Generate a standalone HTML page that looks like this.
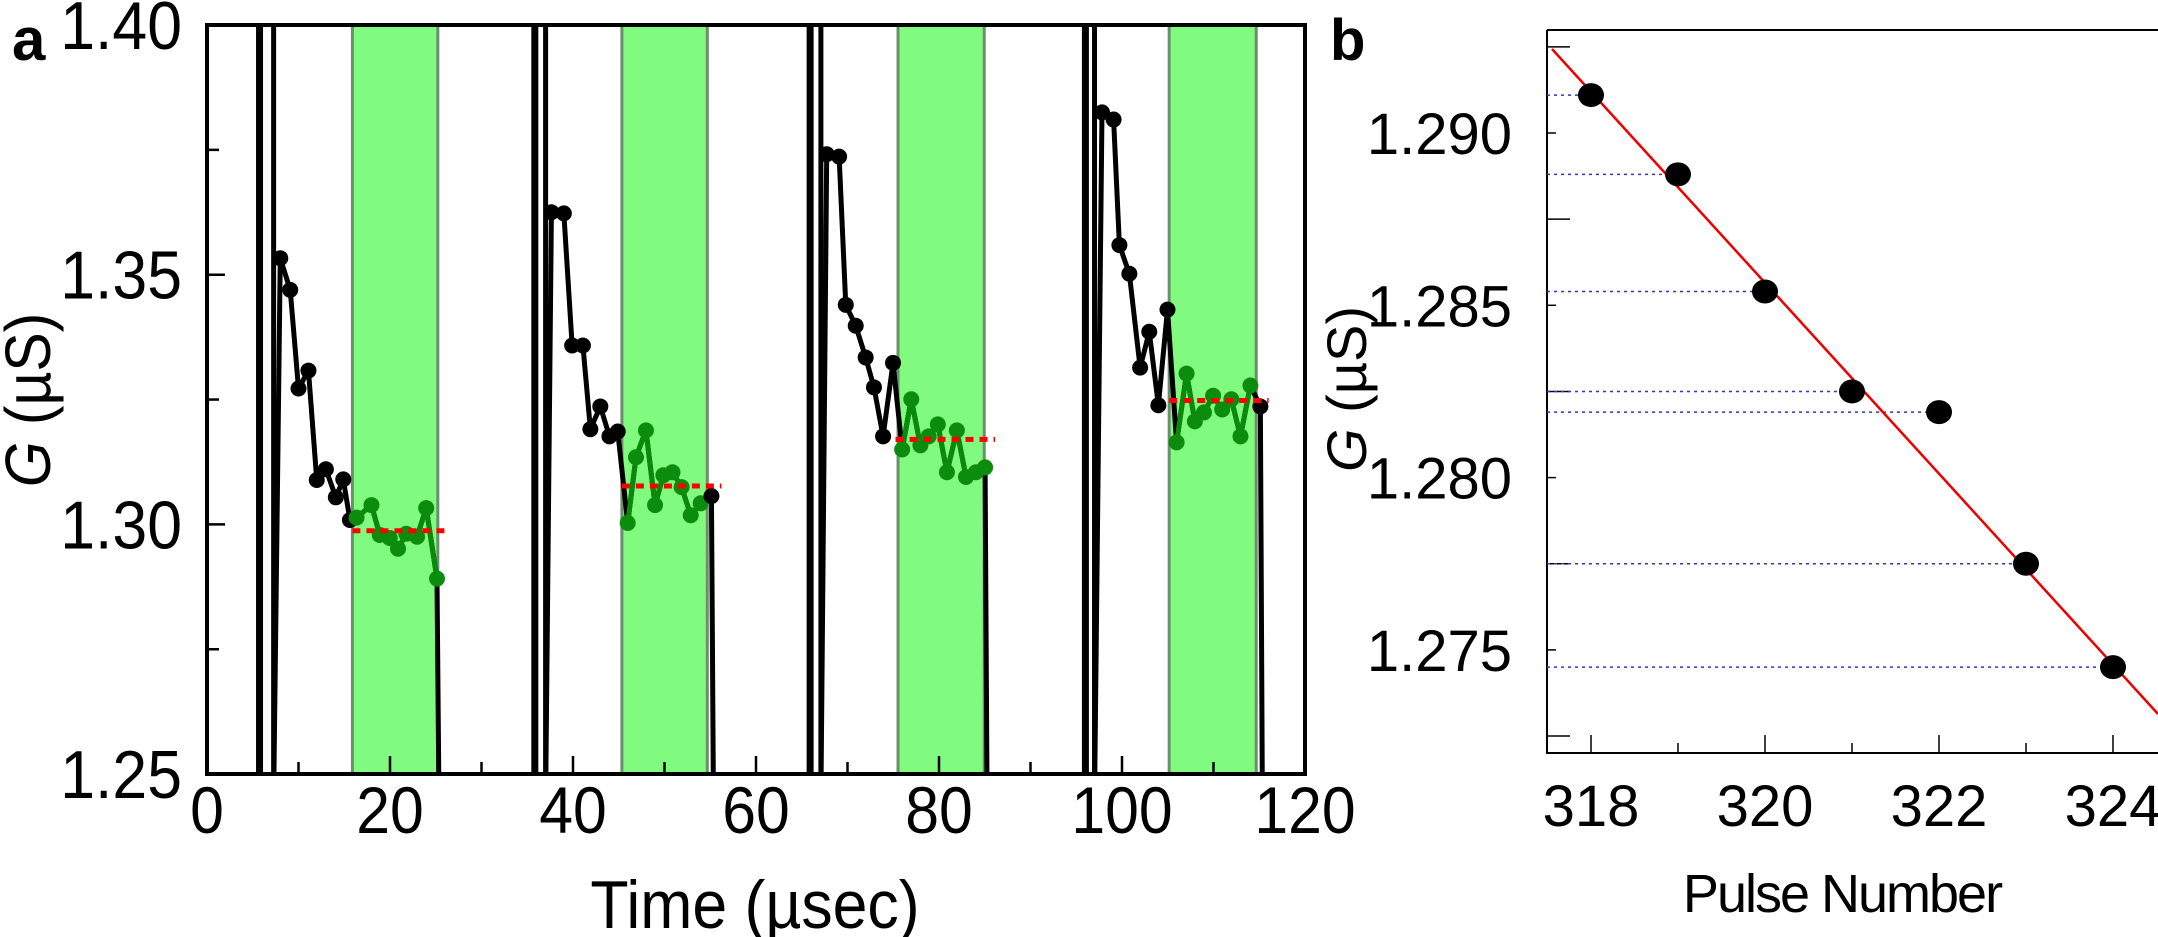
<!DOCTYPE html>
<html><head><meta charset="utf-8"><style>
html,body{margin:0;padding:0;background:#fff;}
svg{display:block;font-family:"Liberation Sans",Arial,sans-serif;}
</style></head><body>
<svg id="s" width="2158" height="937" viewBox="0 0 2158 937" xmlns="http://www.w3.org/2000/svg"></svg>
<script>
const S=document.getElementById('s');let h='';
const X=z=>z/1.206, Y=z=>z/1.673;
h+='<defs><clipPath id="ca"><rect x="207" y="25" width="1098" height="749"/></clipPath></defs>';
[[425,528],[750,853],[1083,1187],[1410,1515]].forEach(b=>{h+=`<rect x="${X(b[0])}" y="25" width="${X(b[1])-X(b[0])}" height="749" fill="#80fb80" stroke="#6a8f6a" stroke-width="3"/>`;});
const cyc=[
{sp:[305,313,323,330],g:[425,528],pts:[[338,432],[350,485],[360,650],[372,620],[382,803],[393,785],[405,832],[414,802],[422,870],[430,866],[448,845],[458,895],[470,900],[480,918],[490,893],[503,898],[514,850],[527,968]],r:[888,425,543]},
{sp:[638,645,652,658],g:[750,853],pts:[[665,355],[680,357],[690,578],[703,578],[712,718],[724,680],[735,730],[745,722],[757,875],[767,765],[779,720],[790,845],[800,795],[811,790],[822,815],[833,862],[845,842],[858,830]],r:[813,750,870]},
{sp:[970,977,985,990],g:[1083,1187],pts:[[997,258],[1012,262],[1020,510],[1032,545],[1044,598],[1054,648],[1065,730],[1077,607],[1088,752],[1099,668],[1110,745],[1120,730],[1131,710],[1142,790],[1154,720],[1165,798],[1177,790],[1188,782]],r:[735,1080,1200]},
{sp:[1300,1309,1314,1320],g:[1410,1515],pts:[[1329,188],[1343,200],[1350,410],[1362,458],[1375,615],[1386,555],[1397,678],[1408,518],[1419,740],[1431,625],[1441,705],[1452,690],[1463,662],[1474,685],[1485,668],[1496,730],[1508,645],[1520,680]],r:[670,1410,1530]}
];
let g='<g clip-path="url(#ca)">';
cyc.forEach(c=>{
 const s=c.sp;const p=c.pts;
 g+=`<line x1="${X(s[1])}" x2="${X(s[1])}" y1="0" y2="800" stroke="#000" stroke-width="7"/>`;
 g+=`<line x1="${X(s[3])}" x2="${X(s[3])}" y1="0" y2="800" stroke="#000" stroke-width="5"/>`;
 let d=`M${X(s[3])} 800 `;
 p.forEach(q=>d+=`L${X(q[0])} ${Y(q[1])} `);
 d+=`L${X(p[p.length-1][0])+2} 800`;
 g+=`<path d="${d}" fill="none" stroke="#000" stroke-width="5" stroke-linejoin="round"/>`;
 const gp=p.filter(q=>q[0]>=c.g[0]&&q[0]<=c.g[1]+2);
 g+=`<polyline points="${gp.map(q=>X(q[0])+','+Y(q[1])).join(' ')}" fill="none" stroke="#0a8a0a" stroke-width="5"/>`;
 p.forEach(q=>{const gr=q[0]>=c.g[0]&&q[0]<=c.g[1]+2;g+=`<circle cx="${X(q[0])}" cy="${Y(q[1])}" r="8" fill="${gr?'#0c8c0c':'#000'}"/>`;});
 g+=`<line x1="${X(c.r[1])}" x2="${X(c.r[2])}" y1="${Y(c.r[0])}" y2="${Y(c.r[0])}" stroke="#f00" stroke-width="5" stroke-dasharray="8,6"/>`;
});
g+='</g>';h+=g;
h+='<rect x="207" y="25" width="1098" height="749" fill="none" stroke="#000" stroke-width="4"/>';
for(let t=0;t<=120;t+=10){const x=207+t*9.15;h+=`<line x1="${x}" x2="${x}" y1="774" y2="${t%20?762:756}" stroke="#000" stroke-width="2.5"/>`;
 if(t%20==0)h+=`<text x="${x}" y="833" font-size="66" text-anchor="middle" transform="translate(${x} 0) scale(0.92 1) translate(${-x} 0)">${t}</text>`;}
[1.40,1.375,1.35,1.325,1.30,1.275,1.25].forEach((v,i)=>{const y=25+(1.40-v)/0.05*249.7;h+=`<line x1="207" x2="${i%2?219:225}" y1="${y}" y2="${y}" stroke="#000" stroke-width="2.5"/>`;
 if(i%2==0)h+=`<text x="182" y="${y+24}" font-size="68" text-anchor="end" transform="translate(182 0) scale(0.92 1) translate(-182 0)">${v.toFixed(2)}</text>`;});
h+='<text x="755" y="928" font-size="68" text-anchor="middle" transform="translate(755 0) scale(0.92 1) translate(-755 0)">Time (µsec)</text>';
h+='<text transform="translate(50 400) rotate(-90) scale(0.92 1)" font-size="64" text-anchor="middle"><tspan font-style="italic">G</tspan> (µS)</text>';
h+='<text x="12" y="60" font-size="60" font-weight="bold">a</text>';
const bx=v=>1591+(v-318)*87, by=v=>133+(1.290-v)/0.005*172.3;
h+='<path d="M1547 30 L2158 30 M1547 30 L1547 753 L2158 753" fill="none" stroke="#000" stroke-width="2"/>';
for(let v=318;v<=324;v++){h+=`<line x1="${bx(v)}" x2="${bx(v)}" y1="753" y2="${v%2?743:735}" stroke="#000" stroke-width="1.5"/>`;if(v%2==0)h+=`<text x="${bx(v)}" y="826" font-size="58" text-anchor="middle">${v}</text>`;}
[1.2925,1.290,1.2875,1.285,1.2825,1.280,1.2775,1.275,1.2725].forEach((v,i)=>{h+=`<line x1="1547" x2="${i%2?1556:1570}" y1="${by(v)}" y2="${by(v)}" stroke="#000" stroke-width="1.5"/>`;if(i%2)h+=`<text x="1512" y="${by(v)+21}" font-size="58" text-anchor="end">${v.toFixed(3)}</text>`;});
const pb=[[318,1.2911],[319,1.2888],[320,1.2854],[321,1.2825],[322,1.2819],[323,1.2775],[324,1.2745]];
pb.forEach(p=>h+=`<line x1="1547" x2="${bx(p[0])}" y1="${by(p[1])}" y2="${by(p[1])}" stroke="#33c" stroke-width="1.5" stroke-dasharray="3,4"/>`);
h+='<line x1="1552" y1="49" x2="2158" y2="714" stroke="#e00" stroke-width="2.5"/>';
pb.forEach(p=>h+=`<ellipse cx="${bx(p[0])}" cy="${by(p[1])}" rx="13" ry="12" fill="#000"/>`);
h+='<text x="1842" y="912" font-size="54" text-anchor="middle" letter-spacing="-2">Pulse Number</text>';
h+='<text transform="translate(1366 389) rotate(-90)" font-size="56" text-anchor="middle"><tspan font-style="italic">G</tspan> (µS)</text>';
h+='<text x="1330" y="60" font-size="58" font-weight="bold">b</text>';
S.innerHTML=h;
</script>
</body></html>
